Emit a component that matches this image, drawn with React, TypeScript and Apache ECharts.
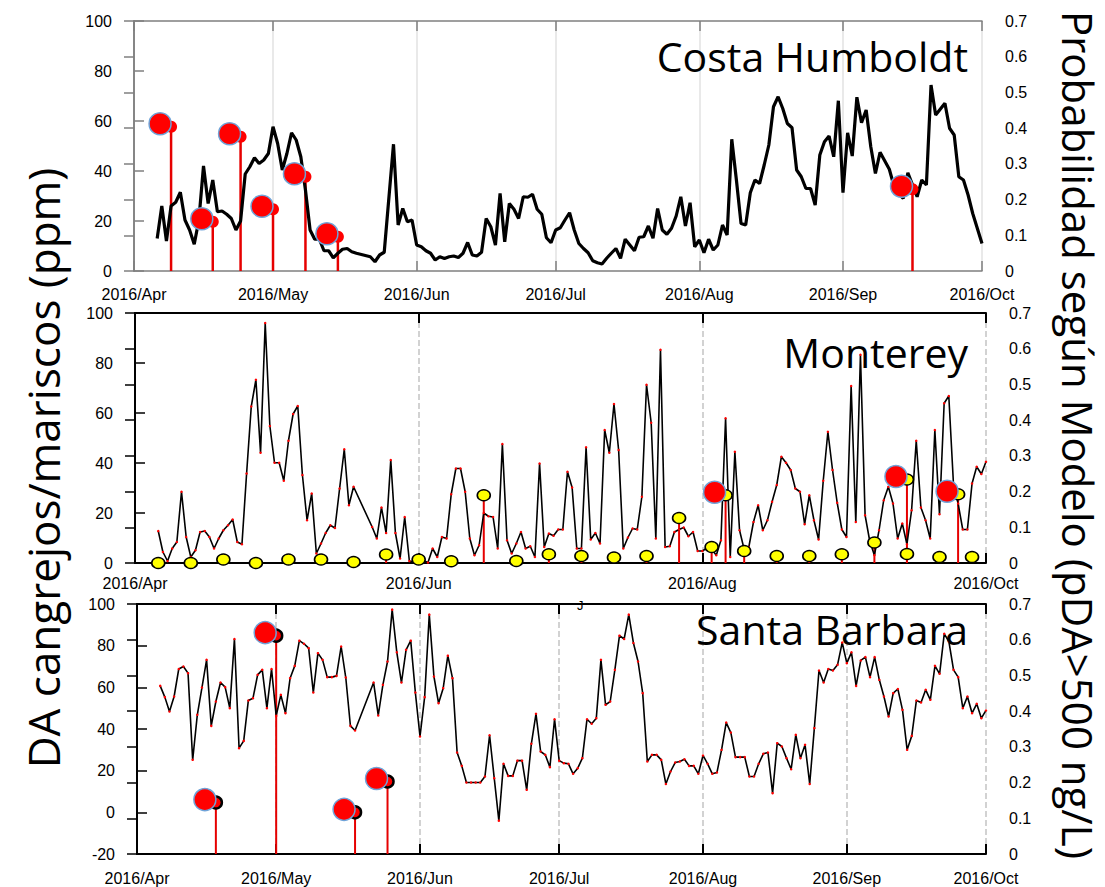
import React, { useEffect, useRef } from 'react';
import * as echarts from 'echarts';

// x values are days after 2016-04-01
const MONTH_DAYS = [0, 30, 61, 91, 122, 153, 183];
const MONTH_LABELS = ['2016/Apr', '2016/May', '2016/Jun', '2016/Jul', '2016/Aug', '2016/Sep', '2016/Oct'];
const MONTH_DAYS_ALT = [0, 61, 122, 183];

const PANEL_TITLES = ['Costa Humboldt', 'Monterey', 'Santa Barbara'];
const LEFT_NAME = 'DA cangrejos/mariscos (ppm)';
const RIGHT_NAME = 'Probabilidad según Modelo (pDA>500 ng/L)';

// Costa Humboldt – model line and DA measurements
const CH_LINE: number[][] = [
  [5, 13], [6, 26], [7, 12], [8, 26], [9, 27.5], [10, 31.5], [11, 20.4], [12, 16.4], [13, 10.7], [14, 20.4],
  [15, 42], [16, 27], [17, 36.4], [18, 23.7], [19, 24], [20, 22.7], [21, 21], [22, 16.4], [23, 20], [24, 38.8],
  [25, 41.7], [26, 45.3], [27, 43], [28, 44.4], [29, 47], [30, 57.7], [31, 51], [32, 40.4], [33, 47], [34, 55.3],
  [35, 52.4], [36, 45.7], [37, 32.4], [38, 16.4], [39, 12.7], [40, 12.7], [41, 8.1], [42, 8.1], [43, 5.3], [44, 7.1],
  [45, 8.7], [46, 9], [47, 7.7], [48, 7.1], [51, 5.7], [52, 3.7], [53, 6.4], [54, 7.5], [56, 50.7], [57, 18.4],
  [58, 25], [59, 19.7], [60, 20.4], [61, 10.4], [62, 9.7], [63, 8.1], [64, 7.1], [65, 4.4], [66, 5.7], [67, 5],
  [68, 5.7], [69, 6], [70, 5.4], [71, 7.1], [72, 11.4], [73, 6.4], [74, 6], [75, 7.5], [76, 21], [77, 17.7],
  [78, 10.4], [79, 31], [80, 11.7], [81, 27], [82, 24.7], [83, 21], [84, 29.7], [85, 29.5], [86, 30.7], [87, 24.7],
  [88, 22.7], [89, 13.3], [90, 11.3], [91, 16.4], [92, 17.3], [93, 20.4], [94, 23.3], [95, 16.4], [96, 11], [97, 9],
  [98, 7.3], [99, 4.1], [100, 3.3], [101, 2.8], [102, 5.1], [103, 7.1], [104, 9], [105, 5.1], [106, 12.7], [107, 10.4],
  [108, 8.1], [109, 13.5], [110, 13.7], [111, 18], [112, 13.1], [113, 25], [114, 16.4], [115, 14.7], [116, 17.1], [117, 22],
  [118, 29.7], [119, 18], [120, 27.3], [121, 9.7], [122, 12.4], [123, 7.3], [124, 12.7], [125, 8.4], [126, 10.4], [127, 18.4],
  [128, 14.4], [129, 52.7], [130, 36.4], [131, 19], [132, 18.4], [133, 31.3], [134, 36.4], [135, 35], [136, 42.4], [137, 50.4],
  [138, 65.7], [139, 69.7], [140, 65], [141, 59], [142, 57.3], [143, 40.4], [144, 37.7], [145, 33], [146, 33], [147, 26.4],
  [148, 46.4], [149, 51.7], [150, 54], [151, 45.7], [152, 68.1], [153, 31.3], [154, 55.3], [155, 46], [156, 69.5], [157, 59.3],
  [158, 64.4], [159, 49.7], [160, 39], [161, 47.5], [162, 44.1], [163, 40.7], [164, 34], [165, 31], [166, 29], [167, 39.3],
  [169, 29.7], [170, 36.4], [171, 34.4], [172, 74.4], [173, 62.4], [175, 67.1], [176, 57.1], [177, 54.4], [178, 37.7], [179, 36.4],
  [180, 30.4], [181, 23], [183, 11],
];
const CH_DA: number[][] = [[8, 57.7], [17, 19.7], [23, 53.7], [30, 24.7], [37, 37.7], [44, 13.7], [168, 32.7]];

// Monterey
const MO_LINE: number[][] = [
  [5, 12.8], [6, 4.4], [7, 0.8], [8, 5.8], [9, 8.4], [10, 28.5], [11, 10.4], [12, 2.4], [13, 5.1], [14, 12.4],
  [15, 12.8], [16, 10.4], [17, 5.8], [18, 9.8], [19, 13.1], [20, 15.1], [21, 17.4], [22, 8.4], [23, 7.5], [24, 35.8],
  [25, 62.6], [26, 73.3], [27, 44.1], [28, 96], [29, 54.8], [30, 40.1], [31, 40.1], [32, 32.9], [33, 48.9], [34, 59.6],
  [35, 62.8], [36, 35.2], [37, 17.1], [38, 27.8], [39, 3.8], [40, 7.8], [41, 12], [42, 15.1], [43, 14], [44, 29.8],
  [45, 45.5], [46, 23.1], [47, 30.5], [51, 14.4], [52, 9.8], [53, 22.2], [54, 12], [55, 41.2], [56, 12], [57, 1.8],
  [58, 18.4], [59, 0.8], [60, 0.5], [61, 0.5], [62, 1], [63, 0.2], [64, 5.8], [65, 2.4], [66, 10.4], [67, 9.8],
  [68, 27.5], [69, 37.8], [70, 37.8], [71, 28.5], [72, 9.8], [73, 3.1], [74, 7.1], [75, 20], [76, 18.7], [77, 18.4],
  [78, 5.8], [79, 47.6], [80, 9.1], [81, 3.8], [82, 7.8], [83, 12.4], [84, 5.8], [85, 6.7], [86, 2.4], [87, 39.8],
  [88, 6.4], [89, 11.8], [90, 10.9], [91, 13.4], [92, 13.4], [93, 36.5], [94, 30.2], [95, 5.8], [96, 5.8], [97, 46.3],
  [98, 9.4], [99, 12], [100, 7.8], [101, 53.2], [102, 44.1], [103, 63.6], [104, 45.2], [105, 5.8], [106, 10.2], [107, 13.8],
  [108, 13.4], [109, 26.5], [110, 71.3], [111, 56.1], [112, 9.8], [113, 85.3], [114, 6.4], [115, 6.7], [116, 12.4], [117, 13.4],
  [118, 14.2], [119, 10.7], [120, 12.4], [121, 4.8], [122, 4.8], [123, 6], [124, 5.5], [125, 3.1], [126, 9.1], [127, 57.9],
  [128, 2.4], [129, 44.5], [130, 13.1], [131, 5.4], [132, 6.4], [133, 16.4], [134, 23.1], [135, 13.1], [136, 17.1], [137, 24.5],
  [138, 31.2], [139, 42.5], [140, 40.1], [141, 37.2], [142, 29.8], [143, 28.5], [144, 15.5], [145, 27.1], [146, 17.1], [147, 9.4],
  [148, 32.9], [149, 52.5], [150, 37.2], [151, 24.1], [152, 13.4], [153, 10.4], [154, 70.8], [155, 16.4], [156, 83.3], [157, 19.1],
  [158, 8.8], [159, 3.1], [160, 13.1], [161, 25.1], [162, 30.5], [163, 23.8], [164, 9.8], [165, 15.8], [166, 7.5], [167, 21.1],
  [168, 48.9], [169, 22.2], [170, 17.1], [171, 9.8], [172, 53.2], [173, 19.5], [174, 63.9], [175, 66.8], [176, 31.8], [177, 23.8],
  [178, 13.4], [179, 13.4], [180, 31.8], [181, 38.5], [182, 35.6], [183, 40.5],
];
const MO_DA: number[][] = [
  [5, 0], [12, 0], [19, 1.4], [26, 0], [33, 1.4], [40, 1.4], [47, 0.4], [54, 3.4], [61, 1.4], [68, 0.7],
  [75, 27.1], [82, 0.8], [89, 3.5], [96, 2.8], [103, 2.2], [110, 2.8], [117, 18], [124, 6.4], [127, 27.1], [131, 4.8],
  [138, 2.8], [145, 2.8], [152, 3.5], [159, 8.2], [166, 33.4], [166, 3.6], [173, 2.4], [177, 27.5], [180, 2.4],
];
const MO_HIGH: number[][] = [[127, 27.1], [166, 33.4], [177, 27.5]];

// Santa Barbara
const SB_LINE: number[][] = [
  [5, 60.7], [6, 55.3], [7, 48.4], [8, 55.6], [9, 68.8], [10, 70], [11, 66.8], [12, 25.2], [13, 46.8], [14, 59.9],
  [15, 73.2], [16, 41.5], [17, 53.2], [18, 62.3], [19, 60.1], [20, 50], [21, 83.2], [22, 30.8], [23, 34.3], [24, 53.7],
  [25, 54.8], [26, 66], [27, 68.4], [28, 50], [29, 68.8], [30, 46.3], [31, 56.4], [32, 47.6], [33, 64.4], [34, 70.3],
  [35, 82.4], [36, 80.9], [37, 78.8], [38, 57.5], [39, 76.4], [40, 73.2], [41, 64.9], [42, 64.9], [43, 65.5], [44, 79.6],
  [45, 64.7], [46, 41.5], [47, 39.3], [51, 62.3], [52, 46.5], [53, 61.2], [54, 72.4], [55, 97.3], [56, 76.8], [57, 62.3],
  [58, 78], [59, 82.4], [60, 57.5], [61, 36.4], [62, 55.3], [63, 94.9], [64, 65.2], [65, 52.4], [66, 59.6], [67, 75.2],
  [68, 64.4], [69, 28.7], [70, 22.3], [71, 14.3], [72, 14.3], [73, 14.3], [74, 14.3], [75, 17.2], [76, 37], [77, 16.4],
  [78, -4], [79, 23.3], [80, 17.5], [81, 17.5], [82, 24.8], [83, 24.8], [84, 10.8], [85, 32.9], [86, 47.3], [87, 29.2],
  [88, 27.6], [89, 21.7], [90, 44.7], [91, 24.8], [92, 23.6], [93, 23.3], [94, 18.5], [95, 21.2], [96, 26], [97, 44.7],
  [98, 42.5], [99, 45.2], [100, 73.2], [101, 51.6], [102, 53.2], [103, 68.4], [104, 84.8], [105, 83.2], [106, 94.9], [107, 81.3],
  [108, 72.4], [109, 57.2], [110, 24.4], [111, 27.6], [112, 27.6], [113, 25.2], [114, 13.6], [115, 19.6], [116, 23.9], [117, 24.4],
  [118, 25.5], [119, 22.3], [120, 22.3], [121, 18.5], [122, 27.3], [123, 23.3], [124, 18.5], [125, 19.1], [126, 30], [127, 43.1],
  [128, 38.3], [129, 26.5], [130, 26.5], [131, 26.5], [132, 17.2], [133, 17.2], [134, 23.3], [135, 28.1], [136, 28.7], [137, 9.2],
  [138, 33.2], [139, 31.6], [140, 26], [141, 20.7], [142, 37.2], [143, 26], [144, 32.4], [145, 13.6], [146, 40.4], [147, 68.1],
  [148, 62.3], [149, 68.8], [150, 68.1], [151, 70.8], [152, 81.5], [153, 71.6], [154, 76.8], [155, 60.7], [156, 72.9], [157, 74.5],
  [158, 64.9], [159, 74.5], [160, 63.6], [161, 55.6], [162, 46], [163, 57.2], [164, 59.2], [165, 49.2], [166, 30], [167, 36.7],
  [168, 53.7], [169, 52.7], [170, 58.8], [171, 54], [172, 70.3], [173, 66.5], [174, 85.7], [175, 82], [176, 68.4], [177, 64.9],
  [178, 50], [179, 55.6], [180, 47.6], [181, 52.1], [182, 45.2], [183, 48.9],
];
const SB_DA: number[][] = [[17, 4.7], [30, 84.8], [47, 0], [54, 14.8]];

const LABEL_FONT = 'Liberation Sans';
const TEXT_FONT = 'Open Sans';
const STEM_RED = '#e60000';

function monthLabel(v: number) {
  const i = MONTH_DAYS.indexOf(Math.round(v));
  return i >= 0 ? MONTH_LABELS[i] : '';
}

export default function App() {
  const ref = useRef<HTMLDivElement>(null);
  useEffect(() => {
    if (!ref.current) return;
    const chart = echarts.init(ref.current, undefined, { renderer: 'svg' });

    const panels = [
      { left: 134, right: 123, top: 21, height: 250, ymin: 0, labelMargin: 15, ticks: MONTH_DAYS, axisColor: '#7f7f7f', axisWidth: 1.5, splitColor: '#e2e2e2', splitType: 'solid' },
      { left: 135, right: 119, top: 313, height: 250, ymin: 0, labelMargin: 12, ticks: MONTH_DAYS_ALT, axisColor: '#000', axisWidth: 2, splitColor: '#c4c4c4', splitType: 'dashed' },
      { left: 137, right: 119, top: 604, height: 250, ymin: -20, labelMargin: 16, ticks: MONTH_DAYS, axisColor: '#000', axisWidth: 2, splitColor: '#c4c4c4', splitType: 'dashed' },
    ];

    const grid = panels.map((p) => ({ left: p.left, right: p.right, top: p.top, height: p.height, containLabel: false }));
    const xAxis: any[] = [];
    const yAxis: any[] = [];
    panels.forEach((p, i) => {
      const common = {
        type: 'value', gridIndex: i, min: 0, max: 183,
        axisLine: { show: true, onZero: false, lineStyle: { color: p.axisColor, width: p.axisWidth } },
        axisTick: { show: true, inside: true, length: 10, customValues: p.ticks, lineStyle: { color: p.axisColor, width: p.axisWidth } },
      };
      xAxis.push({
        ...common, position: 'bottom',
        axisLabel: { show: true, customValues: p.ticks, formatter: monthLabel, margin: p.labelMargin, fontFamily: LABEL_FONT, fontSize: 16, color: '#000' },
        splitLine: { show: true, lineStyle: { color: p.splitColor, width: 1.5, type: p.splitType } },
      });
      xAxis.push({
        ...common, position: 'top',
        axisLabel: { show: false },
        splitLine: { show: false },
      });
      yAxis.push({
        type: 'value', gridIndex: i, position: 'left', min: p.ymin, max: 100, interval: 20,
        axisLine: { show: true, lineStyle: { color: p.axisColor, width: p.axisWidth } },
        axisTick: { show: true, inside: true, length: 10, lineStyle: { color: p.axisColor, width: 1.5 } },
        axisLabel: { margin: 22, fontFamily: LABEL_FONT, fontSize: 16, color: '#000' },
        splitLine: { show: false },
      });
      yAxis.push({
        type: 'value', gridIndex: i, position: 'right', min: 0, max: 0.7, interval: 0.1,
        axisLine: { show: true, lineStyle: { color: p.axisColor, width: p.axisWidth } },
        axisTick: { show: true, inside: true, length: 10, lineStyle: { color: p.axisColor, width: 1.5 } },
        axisLabel: { margin: 23, fontFamily: LABEL_FONT, fontSize: 16, color: '#000', formatter: (v: number) => (Math.round(v * 10) / 10).toString() },
        splitLine: { show: false },
      });
    });

    const stem = (data: number[][], i: number, base: number, width: number) => ({
      type: 'custom', xAxisIndex: 2 * i, yAxisIndex: 2 * i, data, z: 2, silent: true,
      renderItem: (_params: any, api: any) => {
        const top = api.coord([api.value(0), api.value(1)]);
        const bot = api.coord([api.value(0), base]);
        return { type: 'line', shape: { x1: top[0], y1: top[1], x2: bot[0], y2: bot[1] }, style: { stroke: STEM_RED, lineWidth: width } };
      },
    });
    const bigCircles = (data: number[][], i: number) => ({
      type: 'scatter', xAxisIndex: 2 * i, yAxisIndex: 2 * i, data, z: 6, symbol: 'circle', symbolSize: 22, symbolOffset: [-11, -3],
      itemStyle: { color: '#ff0000', borderColor: '#6fa3d8', borderWidth: 1.5, opacity: 1 },
    });
    const thinLine = (data: number[][], i: number) => ({
      type: 'line', xAxisIndex: 2 * i, yAxisIndex: 2 * i, data, z: 3, showSymbol: true, symbol: 'circle', symbolSize: 2.5,
      lineStyle: { color: '#000', width: 1.6 }, itemStyle: { color: '#ff0000', borderWidth: 0 },
    });

    const series: any[] = [
      // Costa Humboldt
      stem(CH_DA, 0, 0, 2.5),
      { type: 'line', xAxisIndex: 0, yAxisIndex: 0, data: CH_LINE, z: 3, showSymbol: false, lineStyle: { color: '#000', width: 3.2 } },
      { type: 'scatter', xAxisIndex: 0, yAxisIndex: 0, data: CH_DA, z: 5, symbolSize: 12, itemStyle: { color: '#ff0000', opacity: 1 } },
      bigCircles(CH_DA, 0),
      // Monterey
      stem(MO_DA, 1, 0, 2),
      thinLine(MO_LINE, 1),
      { type: 'scatter', xAxisIndex: 2, yAxisIndex: 2, data: MO_DA, z: 5, symbolSize: [13, 11], itemStyle: { color: '#ffff00', borderColor: '#000', borderWidth: 1.5, opacity: 1 } },
      bigCircles(MO_HIGH, 1),
      // Santa Barbara
      stem(SB_DA, 2, -20, 2),
      thinLine(SB_LINE, 2),
      { type: 'scatter', xAxisIndex: 4, yAxisIndex: 4, data: SB_DA, z: 5, symbolSize: 12, itemStyle: { color: '#ff0000', borderColor: '#000', borderWidth: 2.5, opacity: 1 } },
      bigCircles(SB_DA, 2),
    ];

    const titleY = [58, 354, 631];
    const graphic: any[] = PANEL_TITLES.map((t, i) => ({
      type: 'text', right: 1105 - 968, top: titleY[i] - 23, z: 10,
      style: { text: t, fontFamily: TEXT_FONT, fontSize: 41, fill: '#000' },
    }));
    graphic.push({
      type: 'text', x: 43, y: 468, rotation: Math.PI / 2, z: 10,
      style: { text: LEFT_NAME, fontFamily: TEXT_FONT, fontSize: 44, fill: '#000', align: 'center', verticalAlign: 'middle' },
    });
    graphic.push({
      type: 'text', x: 1078, y: 435, rotation: -Math.PI / 2, z: 10,
      style: { text: RIGHT_NAME, fontFamily: TEXT_FONT, fontSize: 42, fill: '#000', align: 'center', verticalAlign: 'middle' },
    });
    graphic.push({
      type: 'text', x: 577, y: 599, z: 10,
      style: { text: 'J', fontFamily: LABEL_FONT, fontSize: 13, fill: '#000' },
    });

    chart.setOption({
      animation: false,
      backgroundColor: '#fff',
      grid, xAxis, yAxis, series, graphic,
    });
    return () => chart.dispose();
  }, []);
  return <div ref={ref} style={{ position: 'absolute', left: 0, top: 0, width: 1105, height: 887 }} />;
}
